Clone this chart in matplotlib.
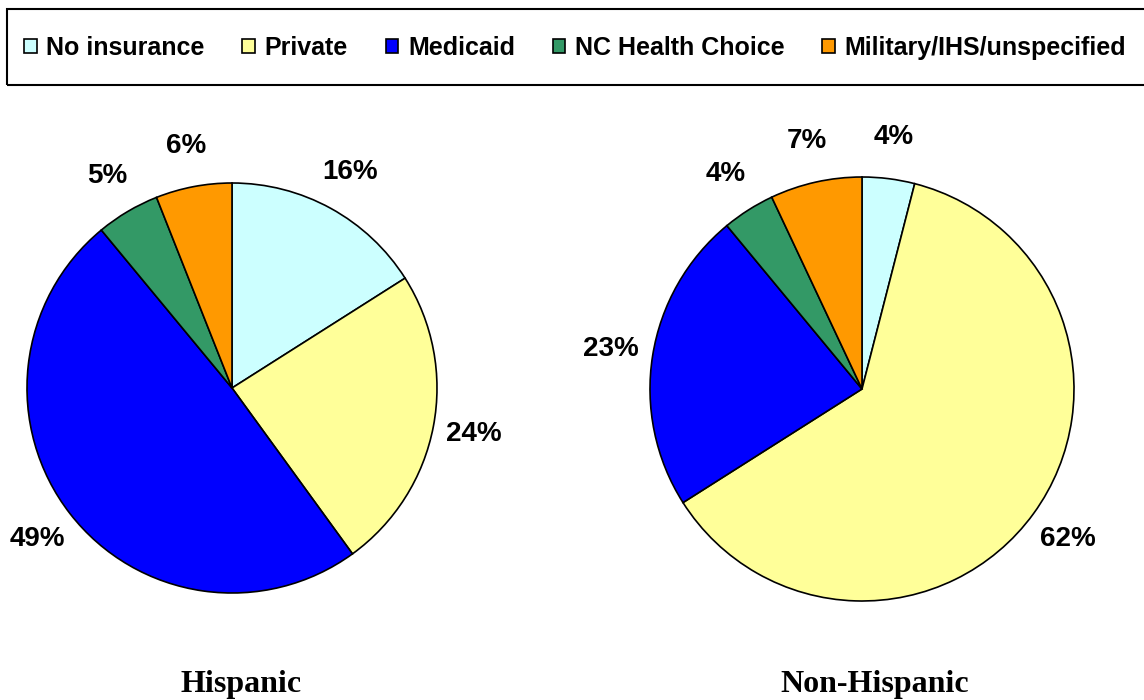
import matplotlib
matplotlib.use("Agg")
import matplotlib.pyplot as plt
from matplotlib.patches import Patch, Rectangle

# data
categories = ["No insurance", "Private", "Medicaid", "NC Health Choice", "Military/IHS/unspecified"]
colors = ["#CCFFFF", "#FFFF99", "#0000FF", "#339966", "#FF9900"]
hispanic = [16, 24, 49, 5, 6]
non_hispanic = [4, 62, 23, 4, 7]
titles = ["Hispanic", "Non-Hispanic"]

W, H = 1144, 700
fig = plt.figure(figsize=(W / 100, H / 100), dpi=100)
fig.patch.set_facecolor("white")

def px_box(left, top, size):
    # pixel box -> figure fraction
    return [left / W, 1 - (top + size) / H, size / W, size / H]

label_font = dict(family="Liberation Sans", weight="bold", size=20,
                  ha="center", va="center")

# left pie: center (232, 388), r 205 ; right pie: center (862, 389), r 212
pies = [(hispanic, px_box(27, 183, 410), 241),
        (non_hispanic, px_box(650, 177, 424), 875)]

for (vals, box, title_x), title in zip(pies, titles):
    ax = fig.add_axes(box)
    ax.pie(vals, colors=colors, startangle=90, counterclock=False,
           labels=[f"{v}%" for v in vals], labeldistance=1.2,
           textprops=label_font,
           wedgeprops=dict(edgecolor="black", linewidth=1.2))
    ax.set_xlim(-1, 1)
    ax.set_ylim(-1, 1)
    ax.set_aspect("equal")
    fig.text(title_x / W, 1 - 692 / H, title, ha="center", va="baseline",
             family="Liberation Serif", weight="bold", size=23)

# legend box
fig.patches.append(Rectangle((7 / W, 1 - 85 / H), (W + 10) / W, 76 / H,
                             transform=fig.transFigure, facecolor="none",
                             edgecolor="black", linewidth=1.5, clip_on=False))

handles = [Patch(facecolor=c, edgecolor="black", linewidth=1.2) for c in colors]
fig.legend(handles, categories, loc="center left",
           bbox_to_anchor=(24 / W, 1 - 48 / H), ncol=5, frameon=False,
           prop=dict(family="Liberation Sans", weight="bold", size=18),
           handlelength=0.5, handleheight=0.5, handletextpad=0.4,
           columnspacing=1.5, borderpad=0, borderaxespad=0)

fig.savefig("out.png", dpi=100)
